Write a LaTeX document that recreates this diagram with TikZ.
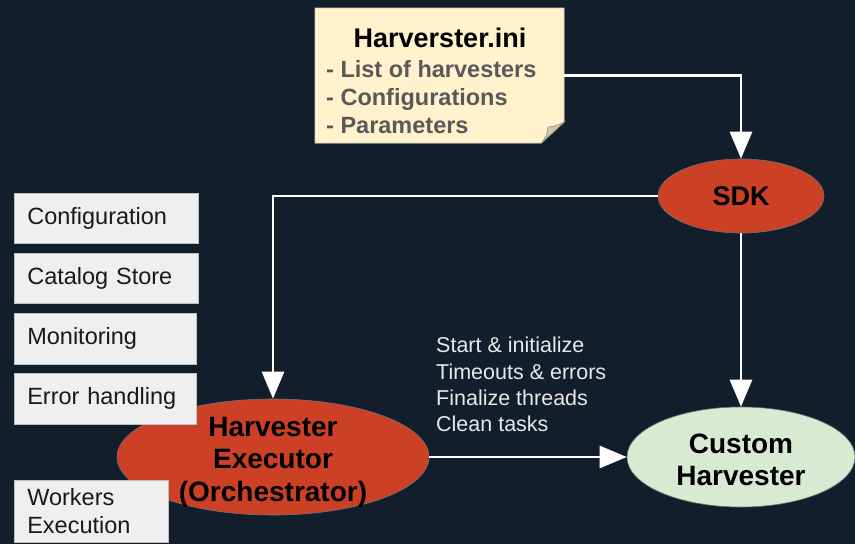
\documentclass[tikz,border=0pt]{standalone}
\usepackage{fontspec}
\setmainfont{Liberation Sans}
\usetikzlibrary{arrows.meta,shapes.geometric}
\definecolor{bgc}{HTML}{131E2D}
\definecolor{redc}{HTML}{CC4125}
\definecolor{greenc}{HTML}{D9EAD3}
\definecolor{notec}{HTML}{FFF2CC}
\definecolor{foldc}{HTML}{CFC6A8}
\definecolor{boxc}{HTML}{EFEFEF}
\definecolor{listc}{HTML}{595959}
\definecolor{labc}{HTML}{E8E8E8}
\tikzset{
  conn/.style={draw=white, line width=2.8pt, -{Triangle[width=22pt,length=27pt]}},
  ell/.style={ellipse, inner sep=0pt, draw=black!55, line width=0.6pt, font=\fontsize{28}{33}\selectfont\bfseries, align=center, text=black},
  sidebox/.style={rectangle, draw=black!25, line width=0.6pt, fill=boxc, anchor=north west, inner xsep=13pt, inner ysep=0pt, align=left, font=\fontsize{23.5}{28}\selectfont, text=black!90},
}
\begin{document}
\begin{tikzpicture}[x=1pt,y=-1pt]
\fill[bgc] (0,0) rectangle (855,544);
\useasboundingbox (0,0) rectangle (855,544);
% note
\node[rectangle, minimum width=249, minimum height=135, inner sep=0pt] (note) at (439.5,75.5) {};
\fill[notec, draw=black!40, line width=0.6pt] (note.north west) -- (note.north east) -- ([yshift=21pt]note.south east) -- ([xshift=-23pt]note.south east) -- (note.south west) -- cycle;
\fill[foldc, draw=black!45, line width=0.6pt] ([yshift=21pt]note.south east) .. controls (556,126) and (551,127) .. (548,127) .. controls (548,133) and (545,139) .. ([xshift=-23pt]note.south east) -- cycle;
\node[font=\fontsize{27}{30}\selectfont\bfseries, text=black] (title) at (440,38) {Harverster.ini};
\node[anchor=west, inner sep=0pt, align=left, font=\fontsize{23.5}{28}\selectfont\bfseries, text=listc] (list) at (326,97) {- List of harvesters\\- Configurations\\- Parameters};
% ellipses
\node[ell, fill=redc, minimum width=166, minimum height=74, font=\fontsize{27}{33}\selectfont\bfseries] (sdk) at (741,196) {SDK};
\node[ell, fill=redc, minimum width=312, minimum height=116] (exec) at (273,457) {};
\node[font=\fontsize{28}{32.5}\selectfont\bfseries, align=center, text=black, inner sep=0pt] (execlbl) at (273,462) {Harvester\\Executor\\(Orchestrator)};
\node[ell, fill=greenc, minimum width=228, minimum height=100] (cust) at (741,457) {};
\node[font=\fontsize{28}{32.5}\selectfont\bfseries, align=center, text=black, inner sep=0pt] (custlbl) at (741,460) {Custom\\Harvester};
% side boxes
\node[sidebox, minimum width=184, minimum height=50, text width=158] (b1) at (14,193) {Configuration};
\node[sidebox, minimum width=184, minimum height=50, text width=158] (b2) at (14,253) {Catalog Store};
\node[sidebox, minimum width=182, minimum height=51, text width=156] (b3) at (14,313) {Monitoring};
\node[sidebox, minimum width=182, minimum height=51, text width=156] (b4) at (14,373) {Error handling};
\node[sidebox, minimum width=154, minimum height=62, text width=128] (b5) at (14,480) {Workers\\Execution};
% label
\node[anchor=north west, inner sep=0pt, align=left, font=\fontsize{21.5}{26.3}\selectfont, text=labc] (lab) at (436,337) {Start \& initialize\\Timeouts \& errors\\Finalize threads\\Clean tasks};
% connectors
\draw[conn] (note.east) -| (sdk.north);
\draw[conn] (sdk.west) -| (exec.north);
\draw[conn] (sdk.south) -- (cust.north);
\draw[conn] (exec.east) -- (cust.west);
\end{tikzpicture}
\end{document}
